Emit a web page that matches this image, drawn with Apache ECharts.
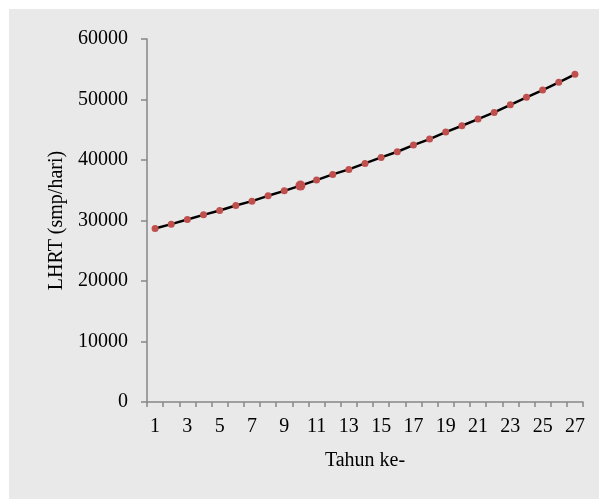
<!DOCTYPE html>
<html>
<head>
<meta charset="utf-8">
<script src="https://cdn.jsdelivr.net/npm/echarts@6/dist/echarts.min.js"></script>
<style>
    body { margin: 0; background: #ffffff; }
    #chart { position: absolute; left: 9px; top: 9px; width: 590px; height: 490px; }
</style>
</head>
<body>
<div id="chart"></div>
<script>
// tahun ke-1 .. ke-27
var tahun = [];
for (var i = 1; i <= 27; i++) tahun.push(String(i));

// LHRT (smp/hari)
var lhrt = [28690, 29400, 30170, 30930, 31660, 32490, 33200, 34080, 34900, 35770,
            36680, 37620, 38450, 39440, 40430, 41360, 42470, 43460, 44620, 45660,
            46770, 47870, 49130, 50360, 51560, 52840, 54160];

var yTicks = [0, 10000, 20000, 30000, 40000, 50000, 60000];

var titikBesar = 10; // titik ke-10 digambar lebih besar

var fontSerif = '"Liberation Serif", "Times New Roman", serif';

var myChart = echarts.init(document.getElementById('chart'));

var dataSeri = lhrt.map(function (v, idx) {
    if (idx + 1 === titikBesar) {
        return { value: v, symbolSize: 10 };
    }
    return v;
});

var option = {
    backgroundColor: '#e9e9e9',
    animation: false,
    grid: {
        left: 138,
        right: 16,
        top: 30,
        bottom: 97
    },
    xAxis: {
        type: 'category',
        data: tahun,
        boundaryGap: true,
        name: 'Tahun ke-',
        nameLocation: 'middle',
        nameGap: 49,
        nameTextStyle: { color: '#000', fontFamily: fontSerif, fontSize: 20 },
        axisLine: { lineStyle: { color: '#868686', width: 1.5 } },
        axisTick: { show: true, interval: 0, length: 5, lineStyle: { color: '#868686', width: 1.5 } },
        axisLabel: { interval: 1, color: '#000', fontFamily: fontSerif, fontSize: 20, margin: 15 },
        splitLine: { show: false }
    },
    yAxis: {
        type: 'value',
        min: yTicks[0],
        max: yTicks[yTicks.length - 1],
        interval: 10000,
        name: 'LHRT (smp/hari)',
        nameLocation: 'middle',
        nameGap: 79,
        nameTextStyle: { color: '#000', fontFamily: fontSerif, fontSize: 20 },
        axisLine: { show: true, lineStyle: { color: '#868686', width: 1.5 } },
        axisTick: { show: true, length: 6, lineStyle: { color: '#868686', width: 1.5 } },
        axisLabel: {
            color: '#000', fontFamily: fontSerif, fontSize: 20, margin: 19,
            formatter: function (v) { return String(v); }
        },
        splitLine: { show: false }
    },
    series: [{
        name: 'LHRT',
        type: 'line',
        data: dataSeri,
        symbol: 'circle',
        symbolSize: 7,
        itemStyle: { color: '#c0504d' },
        lineStyle: { color: '#000000', width: 2.5 }
    }]
};

myChart.setOption(option);
</script>
</body>
</html>
